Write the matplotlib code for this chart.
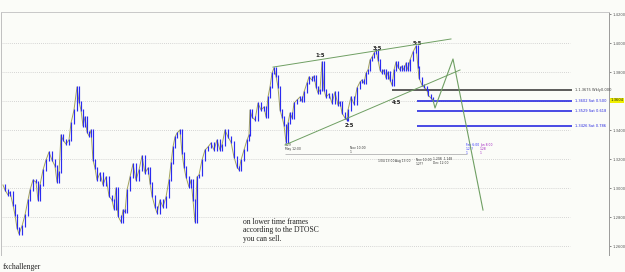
import matplotlib.pyplot as plt
import numpy as np

# price path (bar index, close)
bar_x = [3, 5, 8, 10, 13, 15, 17, 19, 22, 25, 28, 30, 33, 36, 38, 40, 43, 46, 49, 52,
         55, 57, 59, 61, 63, 66, 69, 71, 74, 77, 79, 81, 83, 85, 87, 89, 91, 93, 95, 97,
         100, 103, 106, 109, 112, 114, 116, 118, 121, 123, 125, 127, 130, 133, 136, 139, 142, 145, 148, 150,
         152, 155, 157, 160, 163, 166, 169, 171, 173, 175, 177, 180, 182, 184, 186, 189, 191, 193, 195, 197,
         199, 202, 205, 208, 211, 214, 217, 220, 222, 225, 228, 231, 234, 237, 239, 241, 244, 247, 249, 250,
         252, 255, 258, 261, 264, 266, 268, 270, 272, 274, 276, 278, 280, 282, 284, 286, 288, 290, 292, 294,
         297, 300, 302, 304, 307, 309, 312, 314, 316, 318, 320, 322, 324, 326, 329, 332, 335, 338, 340, 342,
         345, 347, 348, 351, 354, 357, 360, 362, 364, 366, 368, 370, 372, 374, 376, 378, 380, 382, 384, 386,
         388, 390, 392, 394, 396, 398, 400, 402, 404, 406, 408, 410, 413, 416, 418, 419, 422, 424, 427, 428,
         431, 433]
close = [1.3021, 1.2986, 1.2952, 1.2972, 1.2883, 1.2814, 1.2724, 1.2683, 1.2738, 1.2814, 1.2917, 1.2986, 1.3055, 1.3041, 1.2917, 1.3021, 1.3124, 1.3193, 1.3248, 1.3193,
         1.3152, 1.3041, 1.3110, 1.3366, 1.3331, 1.3303, 1.3331, 1.3448, 1.3538, 1.3697, 1.3593, 1.3538, 1.3428, 1.3490, 1.3386, 1.3359, 1.3400, 1.3193, 1.3138, 1.3055,
         1.3103, 1.3021, 1.3076, 1.2945, 1.2917, 1.2855, 1.3000, 1.2807, 1.2766, 1.2848, 1.2834, 1.2986, 1.3076, 1.3166, 1.3055, 1.3124, 1.3221, 1.3103, 1.3138, 1.3034,
         1.2945, 1.2869, 1.2828, 1.2917, 1.2869, 1.2938, 1.3055, 1.3172, 1.3283, 1.3352, 1.3379, 1.3400, 1.3241, 1.3145, 1.3076, 1.3007, 1.3055, 1.2917, 1.2766, 1.3076,
         1.3090, 1.3193, 1.3262, 1.3283, 1.3310, 1.3262, 1.3331, 1.3262, 1.3297, 1.3400, 1.3352, 1.3317, 1.3214, 1.3145, 1.3124, 1.3193, 1.3262, 1.3331, 1.3366, 1.3538,
         1.3490, 1.3469, 1.3586, 1.3538, 1.3559, 1.3490, 1.3628, 1.3697, 1.3793, 1.3828, 1.3772, 1.3697, 1.3538, 1.3490, 1.3434, 1.3317, 1.3448, 1.3517, 1.3483, 1.3586,
         1.3607, 1.3628, 1.3600, 1.3662, 1.3724, 1.3766, 1.3745, 1.3772, 1.3697, 1.3655, 1.3676, 1.3869, 1.3676, 1.3628, 1.3648, 1.3586, 1.3662, 1.3572, 1.3593, 1.3517,
         1.3483, 1.3469, 1.3538, 1.3628, 1.3579, 1.3690, 1.3731, 1.3745, 1.3724, 1.3793, 1.3814, 1.3883, 1.3903, 1.3931, 1.3952, 1.3883, 1.3814, 1.3793, 1.3814, 1.3759,
         1.3800, 1.3745, 1.3710, 1.3814, 1.3869, 1.3834, 1.3814, 1.3841, 1.3814, 1.3862, 1.3814, 1.3883, 1.3938, 1.3979, 1.3834, 1.3759, 1.3710, 1.3697, 1.3676, 1.3641,
         1.3621, 1.3607]

# fibonacci levels and labels
fib_levels = [1.3675, 1.3602, 1.3529, 1.3426]
fib_labels = ["1.1.3675 Wkly0.000", "1.3602 Sat 0.500", "1.3529 Sat 0.618", "1.3426 Sat 0.786"]
fib_colors = ["#404040", "#2a2ae0", "#2a2ae0", "#2a2ae0"]
fib_start = [392, 417, 417, 417]

# trend lines and projected path
upper_x, upper_y = [273, 451], [1.3834, 1.4028]
lower_x, lower_y = [285, 460], [1.3297, 1.3814]
proj_x = [433, 435, 453, 483]
proj_y = [1.3607, 1.3552, 1.3890, 1.2848]

wave_labels = ["1:5", "2:5", "3:5", "4:5", "5:5"]
wave_x = [320, 349, 377, 397, 417]
wave_y = [1.3917, 1.3434, 1.3959, 1.3593, 1.4000]

price_ticks = [1.26, 1.28, 1.30, 1.32, 1.34, 1.36, 1.38, 1.40, 1.42]
last_price = 1.3604

bg = "#fbfcf8"
fig = plt.figure(figsize=(6.25, 2.72), dpi=100, facecolor=bg)
ax = fig.add_axes([1 / 625, 1 - 255 / 272, 608 / 625, 243 / 272], facecolor=bg)
ax.set_xlim(1, 609)
ax.set_ylim(1.2538, 1.4214)

# dotted grid (stops before the right margin)
ax.hlines([t for t in price_ticks if t < 1.41], 1, 570, colors="#c8c8c8",
          linestyles=(0, (1, 1.5)), linewidth=0.6, zorder=0)

# price bars
bx = np.array(bar_x)
cl = np.array(close)
ax.plot(bx, cl, color="#a4a45a", linewidth=0.7, zorder=2)
lo = np.minimum(cl[:-1], cl[1:])
hi = np.maximum(cl[:-1], cl[1:])
ax.vlines(bx[1:], lo - 0.0008, hi + 0.0008, colors="#2b2bf0", linewidth=0.85, zorder=3)

# fib lines
for lvl, lab, col, xs in zip(fib_levels, fib_labels, fib_colors, fib_start):
    ax.hlines(lvl, xs, 572, colors=col, linewidth=1.2, zorder=2)
    ax.text(575, lvl, lab, color=col, fontsize=2.6, va="center", ha="left")

# trend lines
green = "#6f9f63"
ax.plot(upper_x, upper_y, color=green, linewidth=0.7, zorder=4)
ax.plot(lower_x, lower_y, color=green, linewidth=0.7, zorder=4)
ax.plot(proj_x, proj_y, color=green, linewidth=0.8, zorder=4)

for lab, x, y in zip(wave_labels, wave_x, wave_y):
    ax.text(x, y, lab, fontsize=3.8, fontweight="bold", color="#222222",
            ha="center", va="center")

# small time/price markers below the move
ax.hlines(1.3234, 285, 467, colors="#bdbdbd", linewidth=0.7, zorder=1)
small = [(285, 1.3280, "1.29\nMay 12:00", "#333333"),
         (350, 1.3262, "Nov 10:00\n1", "#333333"),
         (378, 1.3186, "1/04 13:00", "#333333"),
         (395, 1.3186, "Aug 13:00", "#333333"),
         (416, 1.3180, "Nov 10:00\n1.2??", "#333333"),
         (433, 1.3186, "1.208  1.148\nDec 12:00", "#333333"),
         (466, 1.3270, "Feb 6:00\n1.2??\n1", "#3030ff"),
         (480, 1.3270, "Jan 8:00\n1.28\n1", "#a020c0")]
for x, y, s, c in small:
    ax.text(x, y, s, fontsize=2.2, color=c, ha="left", va="center", linespacing=1.0)

ax.text(243, 1.2793,
        "on lower time frames\naccording to the DTOSC\nyou can sell.",
        family="Liberation Serif", fontsize=5.5, color="#222222",
        ha="left", va="top", linespacing=1.05)

fig.text(3 / 625, 1 - 267 / 272, "fxchallenger", family="Liberation Serif",
         fontsize=5.5, color="#222222", ha="left", va="center")

# right price axis
ax.yaxis.tick_right()
ax.set_yticks(price_ticks)
ax.set_yticklabels(["" if abs(t - 1.36) < 1e-9 else f"{t:.4f}" for t in price_ticks])
ax.tick_params(axis="y", labelsize=2.7, length=1.5, width=0.5, pad=1,
               colors="#555555", direction="out")
ax.set_xticks([])
ax.text(1.0025, last_price, f"{last_price:.4f}", transform=ax.get_yaxis_transform(),
        fontsize=2.7, color="#222222", va="center", ha="left",
        bbox=dict(boxstyle="square,pad=0.2", facecolor="#f0f000", edgecolor="none"))

for side in ["left", "top", "right"]:
    ax.spines[side].set_color("#9a9a9a")
    ax.spines[side].set_linewidth(0.7)
ax.spines["top"].set_color("#c8c8c8")
ax.spines["left"].set_color("#c0c0c0")
ax.spines["bottom"].set_visible(False)

fig.savefig("out.png", dpi=100, facecolor=bg)
